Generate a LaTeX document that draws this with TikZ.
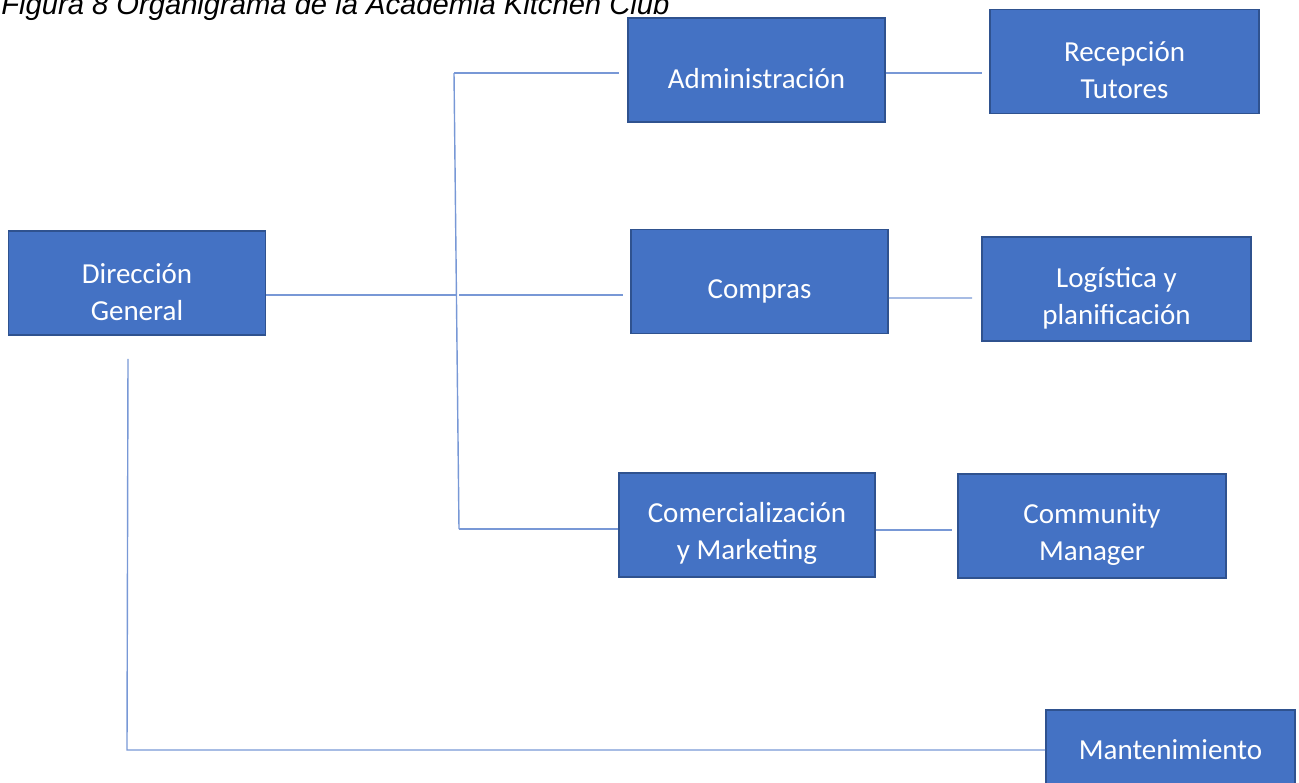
\documentclass[tikz,border=0pt]{standalone}
\usepackage{fontspec}
\setmainfont{Carlito}
\newfontfamily\capfont{Liberation Sans}
\usetikzlibrary{positioning}
\definecolor{Fill}{RGB}{68,114,196}
\definecolor{Edge}{RGB}{47,82,143}
\definecolor{Link}{RGB}{120,152,214}
\newcommand\boxlift{\rule{0pt}{21.5pt}}

\begin{document}
\begin{tikzpicture}[
  unit/.style={draw=Edge,fill=Fill,line width=1.1pt,minimum width=5.14cm,minimum height=2.08cm,align=center,text=white,font=\fontsize{16.5}{21}\selectfont},
  subunit/.style={unit,minimum width=5.38cm},
  link/.style={draw=Link,line width=0.8pt},
  caption/.style={font=\capfont\itshape\fontsize{16.6}{20}\selectfont,inner sep=0pt}]
\useasboundingbox (0,0) rectangle (25.98,-15.64);
\node[caption,anchor=base west] (title) at (0.02,-0.28) {Figura 8 Organigrama de la Academia Kitchen Club};
\node[unit] (dir) at (2.74,-5.66) {\boxlift Dirección\\General};
\node[unit] (admin) at (15.13,-1.40) {\boxlift Administración};
\node[subunit] (recep) at (22.49,-1.23) {\boxlift Recepción\\Tutores};
\node[unit] (compras) at (15.19,-5.63) {\boxlift Compras};
\node[subunit] (logist) at (22.33,-5.78) {\boxlift Logística y\\planificación};
\node[unit,minimum width=5.12cm] (comerc) at (14.94,-10.50) {\boxlift Comercialización\\y Marketing};
\node[subunit,minimum width=5.36cm] (commun) at (21.84,-10.52) {\boxlift Community\\Manager};
\node[unit,minimum width=4.98cm,text depth=0.86cm] (mant) at (23.41,-15.24) {\boxlift Mantenimiento};
% junctions
\coordinate (jtop) at (9.08,-1.46);
\coordinate (jmid) at (9.12,-5.90);
\coordinate (jbot) at (9.18,-10.58);
\coordinate (jmant) at (2.54,-15.00);
\draw[link] (jtop) -- (jbot);
\draw[link] (dir.east |- jmid) -- (jmid);
\draw[link,shorten >=0.16cm] (jtop) -- (admin.west |- jtop);
\draw[link,shorten <=0.06cm,shorten >=0.14cm] (jmid) -- (compras.west |- jmid);
\draw[link] (jbot) -- (comerc.west |- jbot);
\draw[link,shorten >=0.14cm] (admin.east |- jtop) -- (recep.west |- jtop);
\draw[link,shorten >=0.18cm] ([yshift=-0.33cm]compras.east) -- ([yshift=-0.18cm]logist.west);
\draw[link,shorten >=0.10cm] ([yshift=-0.10cm]comerc.east) -- ([yshift=-0.08cm]commun.west);
\draw[link] ([xshift=-0.18cm,yshift=-0.46cm]dir.south) -- (jmant) -- (mant.west |- jmant);
\end{tikzpicture}
\end{document}
